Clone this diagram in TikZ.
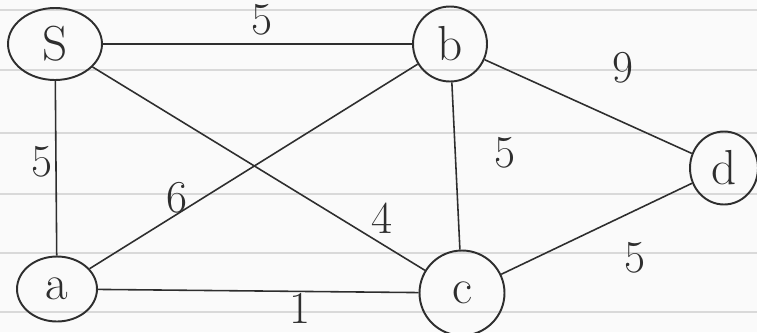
\documentclass[tikz,border=0pt]{standalone}
\usetikzlibrary{shapes.geometric}
\definecolor{ink}{HTML}{2E2E2E}
\definecolor{rule}{HTML}{D9D9D9}
\definecolor{paper}{HTML}{FAFAFA}
\begin{document}
\begin{tikzpicture}[x=0.02cm,y=-0.02cm,
  vert/.style={draw=ink,line width=1.1pt,ellipse,inner sep=0pt,font=\fontsize{28}{32}\selectfont,text=ink},
  edge/.style={draw=ink,line width=0.9pt},
  wlab/.style={font=\fontsize{26}{30}\selectfont,text=ink,inner sep=0pt}]
\clip (0,0) rectangle (757,332);
\fill[paper] (0,0) rectangle (757,332);
\foreach \yy in {10,70,133,194,253,312}
  \draw[rule,line width=0.8pt] (0,\yy) -- (757,\yy);
% vertices
\node[vert,minimum width=1.88cm,minimum height=1.44cm] (S) at (55,44) {S};
\node[vert,minimum width=1.48cm,minimum height=1.50cm] (b) at (450,44) {b};
\node[vert,minimum width=1.36cm,minimum height=1.46cm] (d) at (724,168) {d};
\node[vert,minimum width=1.60cm,minimum height=1.30cm] (a) at (57,289) {a};
\node[vert,minimum width=1.70cm,minimum height=1.70cm] (c) at (462,293) {c};
% edges
\draw[edge] (S) -- (b);
\draw[edge] (S) -- (a);
\draw[edge] (S) -- (c);
\draw[edge] (a) -- (b);
\draw[edge] (a) -- (c);
\draw[edge] (b) -- (c);
\draw[edge] (b) -- (d);
\draw[edge] (c) -- (d);
% weights
\node[wlab] (wSb) at (262,20) {5};
\node[wlab] (wSa) at (42,162) {5};
\node[wlab] (wab) at (177,198) {6};
\node[wlab] (wSc) at (382,218) {4};
\node[wlab] (wbc) at (505,153) {5};
\node[wlab] (wbd) at (623,68) {9};
\node[wlab] (wcd) at (635,258) {5};
\node[wlab] (wac) at (300,308) {1};
\end{tikzpicture}
\end{document}
